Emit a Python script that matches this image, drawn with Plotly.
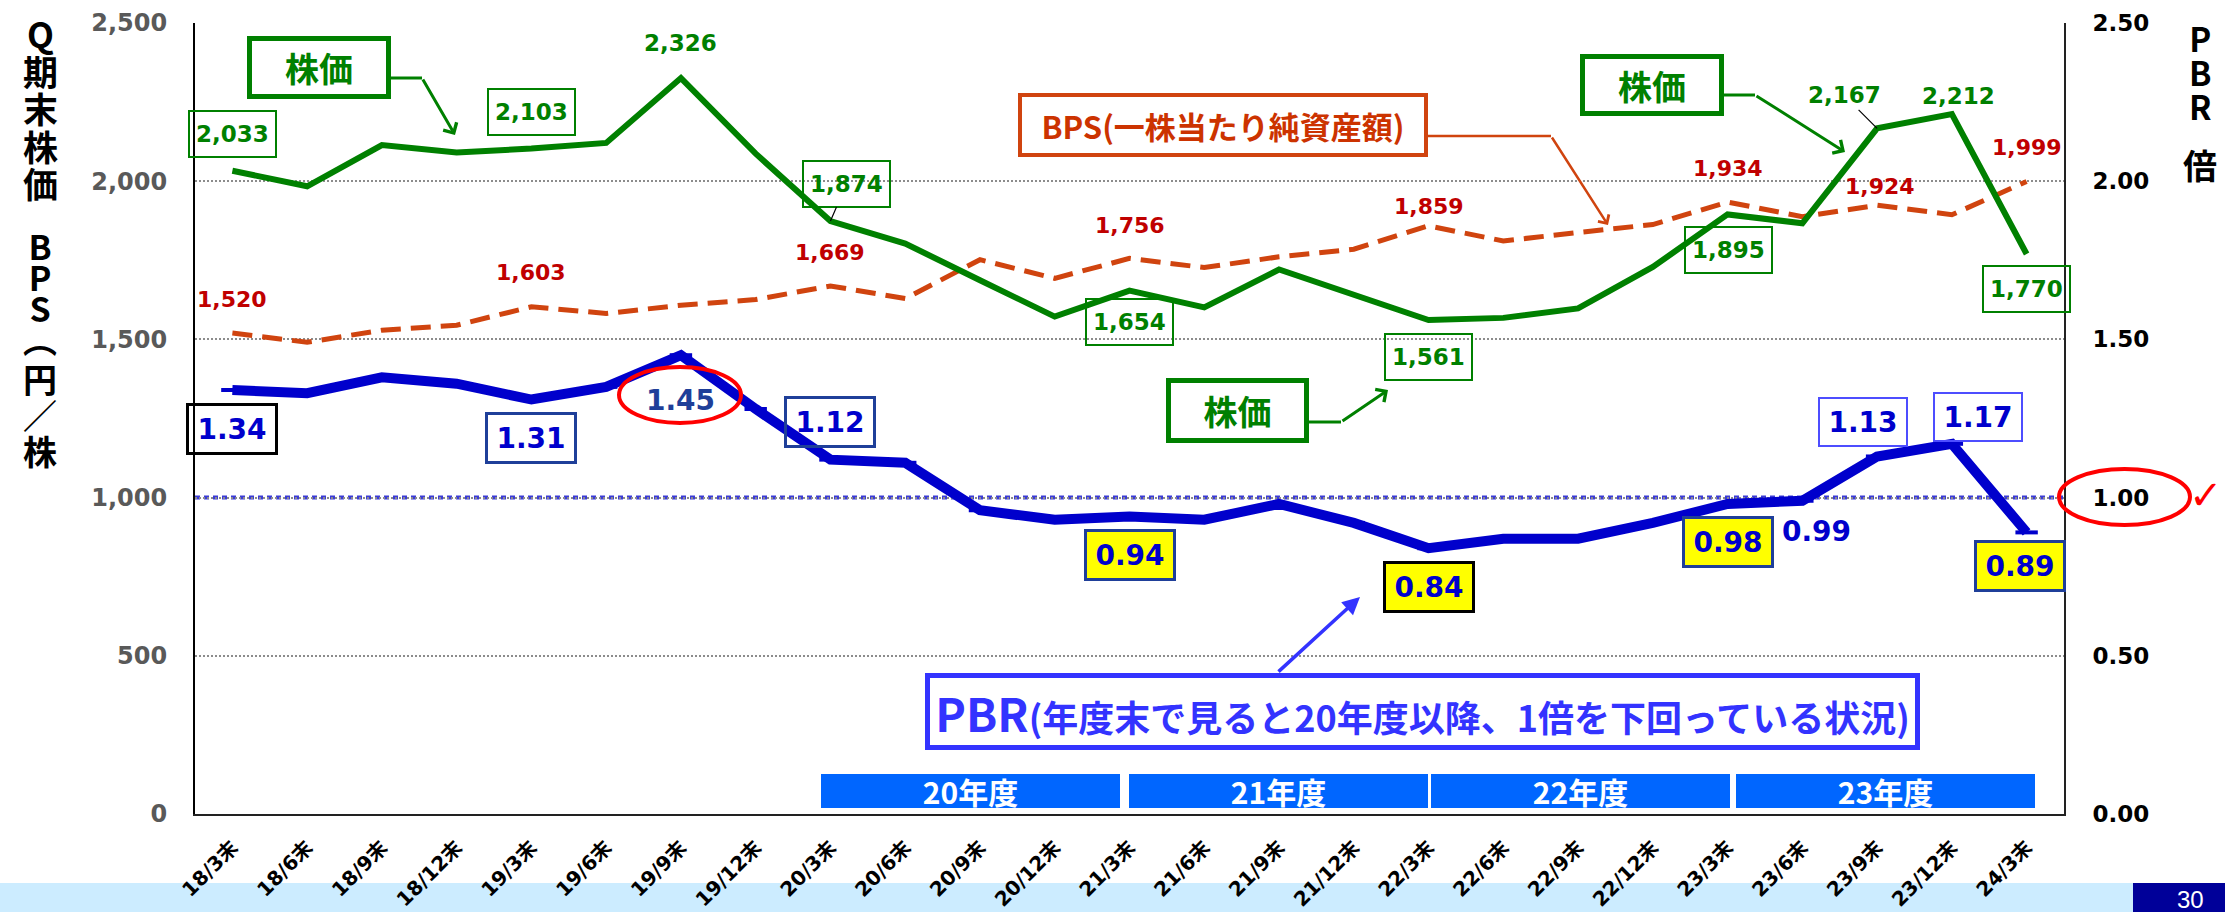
import plotly.graph_objects as go

# ---------------- data ----------------
categories = ["18/3末", "18/6末", "18/9末", "18/12末", "19/3末", "19/6末", "19/9末", "19/12末",
              "20/3末", "20/6末", "20/9末", "20/12末", "21/3末", "21/6末", "21/9末", "21/12末",
              "22/3末", "22/6末", "22/9末", "22/12末", "23/3末", "23/6末", "23/9末", "23/12末", "24/3末"]
stock_price = [2033, 1984, 2114, 2091, 2103, 2121, 2326, 2087, 1874, 1803, 1687, 1572,
               1654, 1601, 1721, 1640, 1561, 1568, 1598, 1729, 1895, 1867, 2167, 2212, 1770]
bps = [1520, 1491, 1529, 1545, 1603, 1582, 1608, 1626, 1669, 1629, 1752, 1693,
       1756, 1727, 1761, 1785, 1859, 1811, 1838, 1863, 1934, 1888, 1924, 1894, 1999]
pbr = [1.34, 1.33, 1.38, 1.36, 1.31, 1.35, 1.45, 1.28, 1.12, 1.11, 0.96, 0.93,
       0.94, 0.93, 0.98, 0.92, 0.84, 0.87, 0.87, 0.92, 0.98, 0.99, 1.13, 1.17, 0.89]
fiscal_years = ["20年度", "21年度", "22年度", "23年度"]
left_tick_vals = [0, 500, 1000, 1500, 2000, 2500]
right_tick_vals = [0.0, 0.5, 1.0, 1.5, 2.0, 2.5]
stock_label_idx = [0, 4, 6, 8, 12, 16, 20, 22, 23, 24]
bps_label_idx = [0, 4, 8, 12, 16, 20, 22, 24]
pbr_label_idx = [0, 4, 6, 8, 12, 16, 20, 21, 22, 23, 24]
left_title_groups = [["Q", "期", "末", "株", "価"], ["B", "P", "S", "︵"], ["円", "／", "株"]]
right_title_groups = [["P", "B", "R"], ["倍"]]
callout_stock = "株価"
callout_bps = "BPS(一株当たり純資産額)"
callout_pbr_head = "PBR"
callout_pbr_body = "(年度末で見ると20年度以降、1倍を下回っている状況)"
page_number = "30"

# ---------------- geometry helpers (layout only) ----------------
W, H = 2225, 912
L, R, T, B = 195, 2064, 23, 814


def fx(px):
    return (px - L) / (R - L)


def fy(py):
    return (B - py) / (B - T)


NUM = "DejaVu Sans, Noto Sans CJK JP, sans-serif"
JP = "Noto Sans CJK JP, DejaVu Sans, sans-serif"
GREEN = "#008000"
BPS_C = "#D0440F"
BPS_LBL = "#C00000"
BLUE = "#0000CC"
NAVY = "#1F3F99"
CALL_BLUE = "#3333FF"

fig = go.Figure()
fig.add_trace(go.Scatter(x=categories, y=bps, mode="lines", name="BPS",
                         line=dict(color=BPS_C, width=5, dash="20px,10px")))
fig.add_trace(go.Scatter(x=categories, y=stock_price, mode="lines", name="株価",
                         line=dict(color=GREEN, width=6)))
fig.add_trace(go.Scatter(x=categories, y=pbr, mode="lines+markers", name="PBR", yaxis="y2",
                         line=dict(color=BLUE, width=10),
                         marker=dict(symbol="line-ew", size=16, color=BLUE,
                                     line=dict(width=4, color=BLUE))))

annotations = []


def label(i, val, text, yref, dx, dy, color, size, border=None, bw=0,
          bg="rgba(0,0,0,0)", w=None, h=None, leader=False):
    d = dict(x=categories[i], y=val, xref="x", yref=yref, text=text,
             font=dict(family=NUM, size=size, color=color, weight="bold"),
             bgcolor=bg, borderpad=1)
    if border:
        d.update(bordercolor=border, borderwidth=bw)
    if w:
        d.update(width=w, height=h)
    if leader:
        d.update(showarrow=True, ax=dx, ay=-dy, arrowhead=0, arrowwidth=1.2,
                 arrowcolor="#000000", standoff=0)
    else:
        d.update(showarrow=False, xshift=dx, yshift=dy)
    return d


# stock price labels
stock_style = {
    0: dict(dx=0, dy=37, box=True),
    4: dict(dx=0, dy=37, box=True),
    6: dict(dx=0, dy=35, box=False),
    8: dict(dx=16, dy=37, box=True, leader=True),
    12: dict(dx=0, dy=-31, box=True),
    16: dict(dx=0, dy=-37, box=True),
    20: dict(dx=1, dy=-36, box=True),
    22: dict(dx=-33, dy=33, box=False, leader=True),
    23: dict(dx=7, dy=18, box=False),
    24: dict(dx=0, dy=-35, box=True),
}
for i in stock_label_idx:
    s = stock_style[i]
    kw = dict(border=GREEN, bw=2, w=83, h=42) if s["box"] else {}
    annotations.append(label(i, stock_price[i], f"{stock_price[i]:,}", "y", s["dx"], s["dy"],
                             GREEN, 23, leader=s.get("leader", False), **kw))

# BPS labels
bps_dy = {0: 34, 4: 34, 8: 33, 12: 33, 16: 19, 20: 34, 22: 19, 24: 34}
bps_dx = {22: 3}
for i in bps_label_idx:
    annotations.append(label(i, bps[i], f"{bps[i]:,}", "y", bps_dx.get(i, 0), bps_dy[i],
                             BPS_LBL, 22))

# PBR labels
pbr_style = {
    0: dict(dx=0, dy=-39, border="#000000", bw=3, color=BLUE),
    4: dict(dx=0, dy=-38, border=NAVY, bw=3, color=BLUE),
    6: dict(dx=0, dy=-45, border=None, color=NAVY),
    8: dict(dx=0, dy=38, border=NAVY, bw=3, color=BLUE),
    12: dict(dx=0, dy=-38, border=NAVY, bw=3, color=BLUE, bg="#FFFF00"),
    16: dict(dx=0, dy=-39, border="#000000", bw=3, color=BLUE, bg="#FFFF00"),
    20: dict(dx=0, dy=-38, border=NAVY, bw=3, color=BLUE, bg="#FFFF00"),
    21: dict(dx=14, dy=-31, border=None, color=BLUE),
    22: dict(dx=-14, dy=34, border="#4D4DFF", bw=2, color=BLUE),
    23: dict(dx=26, dy=27, border="#4D4DFF", bw=2, color=BLUE),
    24: dict(dx=-7, dy=-34, border=NAVY, bw=3, color=BLUE, bg="#FFFF00"),
}
for i in pbr_label_idx:
    s = pbr_style[i]
    kw = {}
    if s["border"]:
        kw = dict(border=s["border"], bw=s["bw"], w=84, h=44)
    if "bg" in s:
        kw["bg"] = s["bg"]
    annotations.append(label(i, pbr[i], f"{pbr[i]:.2f}", "y2", s["dx"], s["dy"],
                             s["color"], 28, **kw))


def pbox(cx, cy, text, font, border, bw, w, h, bg="#FFFFFF"):
    return dict(x=fx(cx), y=fy(cy), xref="paper", yref="paper", text=text, showarrow=False,
                font=font, bordercolor=border, borderwidth=bw, borderpad=0,
                width=w, height=h, bgcolor=bg, xanchor="center", yanchor="middle")


def arrow(tip, tail, color, width, head):
    return dict(x=fx(tip[0]), y=fy(tip[1]), xref="paper", yref="paper", text="",
                showarrow=True, ax=tail[0] - tip[0], ay=tail[1] - tip[1],
                arrowhead=head, arrowsize=1, arrowwidth=width, arrowcolor=color,
                standoff=0, startstandoff=0)


green_font = dict(family=JP, size=34, color=GREEN, weight="bold")
annotations += [
    pbox(319, 67.5, callout_stock, green_font, GREEN, 5, 134, 53),
    pbox(1652, 85, callout_stock, green_font, GREEN, 5, 134, 52),
    pbox(1237.5, 410.5, callout_stock, green_font, GREEN, 5, 133, 55),
    pbox(1223, 125, callout_bps, dict(family=JP, size=31, color="#CC3300", weight="bold"),
         BPS_C, 4, 402, 56),
    pbox(1422, 711.5,
         f"<span style='font-size:46px'>{callout_pbr_head}</span>{callout_pbr_body}",
         dict(family=JP, size=36, color=CALL_BLUE, weight="bold"), CALL_BLUE, 5, 985, 67),
    arrow((455, 135), (422, 78), GREEN, 3, 4),
    arrow((1845, 152), (1755, 95), GREEN, 3, 4),
    arrow((1388, 390), (1341, 422), GREEN, 3, 4),
    arrow((1608, 225), (1551, 136), BPS_C, 2.5, 4),
    arrow((1360, 597), (1277, 673), CALL_BLUE, 3.5, 2),
]

# fiscal year bands
band_centers = [970, 1278.5, 1580.5, 1885.5]
for name, cx in zip(fiscal_years, band_centers):
    annotations.append(pbox(cx, 791, name, dict(family=JP, size=30, color="#FFFFFF", weight="bold"),
                            "#0066FF", 0, 299, 34, bg="#0066FF"))


# axis titles: vertical stacks; line pitch = 1.3 * base font, glyphs at a larger span size
def vstack(chars, cx, top_center, pitch, glyph):
    base = pitch / 1.3
    text = "<br>".join(f"<span style='font-size:{glyph}px'>{c}</span>" for c in chars)
    n = len(chars)
    cy = top_center + pitch * (n - 1) / 2
    return dict(x=fx(cx), y=fy(cy), xref="paper", yref="paper", text=text,
                showarrow=False, xanchor="center", yanchor="middle", align="center",
                font=dict(family=JP, size=base, color="#000000", weight="bold"))


annotations.append(vstack(left_title_groups[0], 40, 32, 37.5, 35))
annotations.append(vstack(left_title_groups[1], 40, 245, 31, 34))
annotations.append(vstack(left_title_groups[2], 40, 378, 36, 34))
annotations.append(vstack(right_title_groups[0], 2200, 38, 34, 33))
annotations.append(vstack(right_title_groups[1], 2200, 164, 34, 34))

# check mark and page number
annotations.append(dict(x=fx(2206), y=fy(495), xref="paper", yref="paper", text="✓",
                        showarrow=False, xanchor="center", yanchor="middle",
                        font=dict(family="DejaVu Sans", size=40, color="#FF0000")))
annotations.append(dict(x=fx(2190), y=fy(899), xref="paper", yref="paper", text=page_number,
                        showarrow=False, xanchor="center", yanchor="middle",
                        font=dict(family="Liberation Sans, Arial", size=24, color="#FFFFFF")))

shapes = [
    # bottom strip
    dict(type="rect", xref="paper", yref="paper", x0=fx(0), x1=fx(2133), y0=fy(912), y1=fy(883),
         fillcolor="#CCECFF", line=dict(width=0), layer="below"),
    dict(type="rect", xref="paper", yref="paper", x0=fx(2133), x1=fx(2225), y0=fy(912), y1=fy(883),
         fillcolor="#000099", line=dict(width=0), layer="below"),
    # PBR = 1.00 reference line
    dict(type="line", xref="paper", yref="y2", x0=0, x1=1, y0=1.0, y1=1.0,
         line=dict(color="#3B3BD6", width=4, dash="5px,4px"), layer="between"),
    # red ellipses
    dict(type="circle", xref="paper", yref="paper", x0=fx(619), x1=fx(741), y0=fy(423), y1=fy(367),
         line=dict(color="#FF0000", width=4)),
    dict(type="circle", xref="paper", yref="paper", x0=fx(2059), x1=fx(2190), y0=fy(525), y1=fy(469),
         line=dict(color="#FF0000", width=4)),
    # callout elbows
    dict(type="line", xref="paper", yref="paper", x0=fx(391), x1=fx(422), y0=fy(78), y1=fy(78),
         line=dict(color=GREEN, width=3)),
    dict(type="line", xref="paper", yref="paper", x0=fx(1724), x1=fx(1755), y0=fy(95), y1=fy(95),
         line=dict(color=GREEN, width=3)),
    dict(type="line", xref="paper", yref="paper", x0=fx(1309), x1=fx(1341), y0=fy(422), y1=fy(422),
         line=dict(color=GREEN, width=3)),
    dict(type="line", xref="paper", yref="paper", x0=fx(1428), x1=fx(1551), y0=fy(136), y1=fy(136),
         line=dict(color=BPS_C, width=2.5)),
]

fig.update_layout(
    width=W, height=H,
    margin=dict(l=L, r=W - R, t=T, b=H - B, pad=0, autoexpand=False),
    paper_bgcolor="#FFFFFF", plot_bgcolor="#FFFFFF",
    showlegend=False,
    xaxis=dict(type="category", range=[-0.5, 24.5], showline=True, linecolor="#222222",
               linewidth=2, showgrid=False, zeroline=False, tickangle=-45, ticks="",
               tickfont=dict(family=NUM, size=20, color="#000000", weight="bold"),
               ticklabelstandoff=12, automargin=False),
    yaxis=dict(range=[0, 2500], tickvals=left_tick_vals, tickformat=",", showline=True,
               linecolor="#000000", linewidth=2, showgrid=True, gridcolor="#8C8C8C",
               griddash="2px,2px", gridwidth=1.5, zeroline=False, ticks="",
               tickfont=dict(family=NUM, size=24, color="#595959", weight="bold"),
               ticklabelstandoff=21, automargin=False),
    yaxis2=dict(range=[0, 2.5], overlaying="y", side="right", tickvals=right_tick_vals,
                tickformat=".2f", showline=True, linecolor="#222222", linewidth=2,
                showgrid=False, zeroline=False, ticks="",
                tickfont=dict(family=NUM, size=23, color="#000000", weight="bold"),
                ticklabelstandoff=22, automargin=False),
    annotations=annotations,
    shapes=shapes,
)

fig.write_html(
    "out.html",
    config={"displayModeBar": False},
    post_script="document.body.style.margin='0px';document.body.style.padding='0px';"
                "document.body.style.overflow='hidden';",
)
